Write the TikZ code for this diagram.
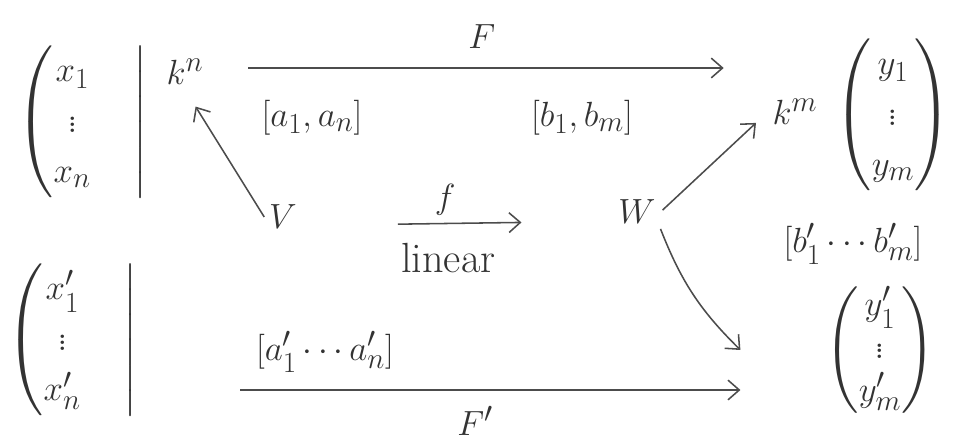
\documentclass[tikz,border=0pt]{standalone}
\usepackage{amsmath,amssymb}
\usetikzlibrary{arrows.meta,positioning,calc}
\tikzset{
  hand/.style={draw=black!70, line width=1.1pt, -{Straight Barb[length=8pt,width=14pt]}},
  every node/.style={text=black!80, font=\fontsize{30}{36}\selectfont},
}
\begin{document}
\begin{tikzpicture}[x=0.025cm, y=-0.025cm]
\useasboundingbox (0,0) rectangle (972,444);
% left column
\node (xvec) at (82,122) {$\left(\begin{matrix} x_1\\ \vdots\\ x_n\end{matrix}\quad\right|$};
\node (xpvec) at (72,340) {$\left(\begin{matrix} x'_1\\ \vdots\\ x'_n\end{matrix}\quad\right|$};
\node (kn) at (185,72) {$k^n$};
% spaces
\node (V) at (283,217) {$V$};
\node (W) at (637,212) {$W$};
% right column
\node (km) at (795,112) {$k^m$};
\node (yvec) at (893,115) {$\begin{pmatrix} y_1\\ \vdots\\ y_m\end{pmatrix}$};
\node (ypvec) at (880,350) {\renewcommand\arraystretch{0.85}$\begin{pmatrix} y'_1\\ \vdots\\ y'_m\end{pmatrix}$};
% bases
\node (abase) at (312,118) {$[a_1, a_n]$};
\node (bbase) at (582,118) {$[b_1, b_m]$};
\node (apbase) at (325,352) {$[a'_1\cdots a'_n]$};
\node (bpbase) at (853,244) {$[b'_1\cdots b'_m]$};
% arrow ends
\coordinate (Fs) at (248,68);
\coordinate (Fps) at (240,390);
\coordinate (tipW) at ([xshift=-2cm]ypvec.west);
% maps
\draw[hand, shorten >=1.1cm] (Fs) -- (Fs -| km.west) node[pos=0.45, above=10pt] {$F$};
\draw[hand] (Fps) -- (Fps -| tipW) node[pos=0.47, below=8pt] {$F'$};
\draw[hand, transform canvas={yshift=-0.22cm}, shorten <=2.4cm, shorten >=2.3cm] (V) -- (W) node[pos=0.46, above=2pt] {$f$} node[pos=0.47, below=10pt] {linear};
\draw[hand, shorten >=0.5cm] (V.west) -- (kn.south);
\draw[hand, shorten <=2pt, shorten >=0.4cm] (W.east) -- (km.west);
\draw[hand] (W.south east) to[bend right=12] (tipW);
\end{tikzpicture}
\end{document}
